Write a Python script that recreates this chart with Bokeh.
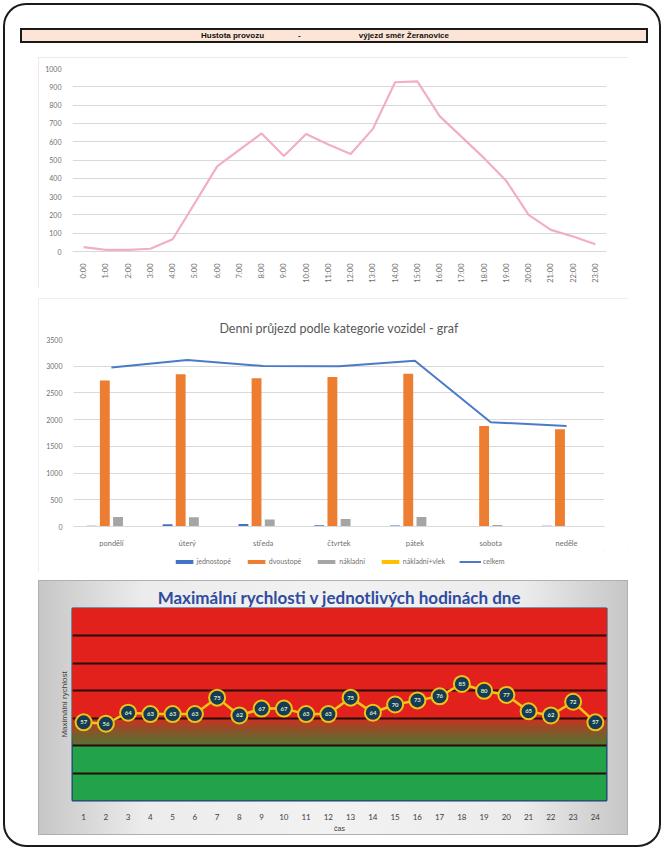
import numpy as np
from bokeh.plotting import figure
from bokeh.models import (ColumnDataSource, FactorRange, Range1d, Legend, LegendItem,
                          Div, FixedTicker, Column)
from bokeh.transform import dodge
from bokeh.embed import file_html
from bokeh.resources import INLINE
from bokeh.core.properties import value

# ---------------- data ----------------
hour_labels = ["0:00", "1:00", "2:00", "3:00", "4:00", "5:00", "6:00", "7:00",
               "8:00", "9:00", "10:00", "11:00", "12:00", "13:00", "14:00", "15:00",
               "16:00", "17:00", "18:00", "19:00", "20:00", "21:00", "22:00", "23:00"]
traffic = [24, 9, 9, 15, 67, 265, 465, 555, 645, 522, 642, 585,
           533, 670, 925, 930, 740, 625, 510, 385, 200, 118, 82, 40]

days = ["pondělí", "úterý", "středa", "čtvrtek", "pátek", "sobota", "neděle"]
jednostope = [15, 40, 45, 25, 20, 10, 15]
dvoustope = [2733, 2851, 2777, 2796, 2857, 1880, 1818]
nakladni = [180, 175, 130, 140, 176, 30, 10]
nakladni_vlek = [5, 5, 5, 5, 5, 3, 3]
celkem = [2975, 3117, 3005, 3000, 3104, 1953, 1880]
series_names = ["jednostopé", "dvoustopé", "nákladní", "nákladní+vlek", "celkem"]

speed_hours = [1, 2, 3, 4, 5, 6, 7, 8, 9, 10, 11, 12,
               13, 14, 15, 16, 17, 18, 19, 20, 21, 22, 23, 24]
speeds = [57, 56, 64, 63, 63, 63, 75, 62, 67, 67, 63, 63,
          75, 64, 70, 73, 76, 85, 80, 77, 65, 62, 72, 57]

FONT = "Lato"
GRID = "#d9d9d9"
LBL = "#6f6f6f"
COLORS = ["#4472C4", "#ED7D31", "#A5A5A5", "#FFC000", "#4A7BC8"]

# ---------------- header bar ----------------
title_div = Div(
    text=('<span>Hustota provozu</span>'
          '<span style="margin:0 58px 0 34px">-</span>'
          '<span>výjezd směr Žeranovice</span>'),
    width=628, height=15, margin=(28, 16, 0, 20),
    styles={"background-color": "#FCE4D6", "border": "2px solid #1a1a1a",
            "box-sizing": "border-box", "font-family": "Liberation Sans",
            "font-size": "8px", "font-weight": "bold", "text-align": "center",
            "line-height": "11px", "padding-right": "18px", "color": "#111"})

# ---------------- chart 1: hourly traffic ----------------
p1 = figure(width=590, height=231, x_range=FactorRange(factors=hour_labels),
            y_range=Range1d(0, 1000), output_backend="svg", toolbar_location=None,
            min_border_left=34, min_border_right=18, min_border_top=11,
            min_border_bottom=37, margin=(14, 0, 0, 38))
p1.title.visible = False
p1.styles = {"outline": "1px solid #eee0da", "outline-offset": "-1px"}
p1.line(x=hour_labels, y=traffic, line_color="#F2AFC0", line_width=2.2)
p1.outline_line_color = None
p1.xgrid.visible = False
p1.ygrid.grid_line_color = GRID
p1.yaxis.ticker = FixedTicker(ticks=list(range(0, 1001, 100)))
p1.yaxis.axis_line_color = None
p1.yaxis.major_tick_line_color = None
p1.yaxis.minor_tick_line_color = None
p1.yaxis.major_label_text_font_size = "7px"
p1.yaxis.major_label_text_color = LBL
p1.yaxis.major_label_text_font = FONT
p1.xaxis.major_label_orientation = np.pi / 2
p1.xaxis.major_label_text_font_size = "7.5px"
p1.xaxis.major_label_text_color = LBL
p1.xaxis.major_label_text_font = FONT
p1.xaxis.axis_line_color = GRID
p1.xaxis.major_tick_line_color = None
p1.xaxis.major_label_standoff = 6

# ---------------- chart 2: daily by category ----------------
src = ColumnDataSource(dict(days=days, j=jednostope, d=dvoustope, n=nakladni,
                            v=nakladni_vlek, c=celkem))
p2 = figure(width=590, height=252, x_range=FactorRange(factors=days),
            y_range=Range1d(0, 3500), output_backend="svg", toolbar_location=None,
            min_border_left=35, min_border_right=24, min_border_top=41,
            min_border_bottom=22, margin=(0, 0, 0, 0),
            title="Denni průjezd podle kategorie vozidel - graf")
p2.title.align = "center"
p2.title.text_font = FONT
p2.title.text_font_size = "12.5px"
p2.title.text_font_style = "normal"
p2.title.text_color = "#595959"
p2.title.standoff = 8
bw = 0.13
p2.vbar(x=dodge("days", -0.26, range=p2.x_range), top="j", width=bw, source=src,
        fill_color=COLORS[0], line_color=None)
p2.vbar(x=dodge("days", -0.087, range=p2.x_range), top="d", width=bw, source=src,
        fill_color=COLORS[1], line_color=None)
p2.vbar(x=dodge("days", 0.087, range=p2.x_range), top="n", width=bw, source=src,
        fill_color=COLORS[2], line_color=None)
p2.vbar(x=dodge("days", 0.26, range=p2.x_range), top="v", width=bw, source=src,
        fill_color=COLORS[3], line_color=None)
p2.line(x="days", y="c", source=src, line_color=COLORS[4], line_width=2)
p2.outline_line_color = None
p2.xgrid.visible = False
p2.ygrid.grid_line_color = GRID
p2.yaxis.ticker = FixedTicker(ticks=list(range(0, 3501, 500)))
p2.yaxis.axis_line_color = None
p2.yaxis.major_tick_line_color = None
p2.yaxis.minor_tick_line_color = None
p2.yaxis.major_label_text_font_size = "7px"
p2.yaxis.major_label_text_color = LBL
p2.yaxis.major_label_text_font = FONT
p2.xaxis.axis_line_color = GRID
p2.xaxis.major_tick_line_color = None
p2.xaxis.major_label_text_font_size = "7.5px"
p2.xaxis.major_label_text_color = LBL
p2.xaxis.major_label_text_font = FONT
p2.xaxis.major_label_standoff = 6

# legend strip for chart 2 (same series styling; its sample marks lie outside the view)
leg = figure(width=590, height=22, x_range=Range1d(0, 1), y_range=Range1d(0, 1),
             output_backend="svg", toolbar_location=None, min_border=0,
             margin=(0, 0, 0, 0))
leg.title.visible = False
leg.axis.visible = False
leg.grid.visible = False
leg.outline_line_color = None
lr = []
for k in range(4):
    lr.append(leg.vbar(x=[5], bottom=[5], top=[6], width=0.1,
                       fill_color=COLORS[k], line_color=None))
lr.append(leg.line(x=[5, 6], y=[5, 5], line_color=COLORS[4], line_width=2))
legend = Legend(items=[LegendItem(label=series_names[k], renderers=[lr[k]]) for k in range(5)],
                orientation="horizontal", location="center", ncols=5,
                label_text_font_size="7px", label_text_color=LBL,
                label_text_font=FONT, glyph_width=22, glyph_height=5,
                label_height=8, label_standoff=2, spacing=14, padding=1, margin=0,
                border_line_color=None, background_fill_alpha=0)
leg.add_layout(legend, "center")

chart2 = Column(children=[p2, leg], spacing=0, margin=(10, 0, 0, 38),
                styles={"outline": "1px solid #e8e8e8", "outline-offset": "-1px"})

# ---------------- chart 3: max speeds ----------------
p3 = figure(width=590, height=255, x_range=Range1d(0.5, 24.5), y_range=Range1d(0, 140),
            output_backend="svg", toolbar_location=None,
            min_border_left=27, min_border_right=22, min_border_top=28,
            min_border_bottom=35, margin=(8, 0, 15, 38),
            title="Maximální rychlosti v jednotlivých hodinách dne")
p3.border_fill_color = None
p3.styles = {"background": "linear-gradient(90deg, #c6c6c6 0%, #ececec 18%, #f2f2f2 50%, #ececec 82%, #c6c6c6 100%)",
             "outline": "1px solid #b0b0b0", "outline-offset": "-1px"}
p3.title.align = "center"
p3.title.text_font = FONT
p3.title.text_font_size = "17px"
p3.title.text_color = "#2F4C9E"
p3.title.text_font_style = "bold"
p3.title.standoff = 1

# background zones: green up to 40, gradient to red by 62
GREEN_TOP, RED_BOTTOM, Y_TOP = 40, 62, 140
p3.quad(left=0.5, right=24.5, bottom=0, top=GREEN_TOP, fill_color="#22A34A",
        line_color=None, level="image")
steps = 22
c0 = np.array([0x5E, 0x6E, 0x30])
c1 = np.array([0xE3, 0x22, 0x1C])
edges = np.linspace(GREEN_TOP, RED_BOTTOM, steps + 1)
for i in range(steps):
    t = (i + 0.5) / steps
    t = t ** 1.5
    col = (c0 + (c1 - c0) * t).astype(int)
    p3.quad(left=0.5, right=24.5, bottom=edges[i], top=Y_TOP,
            fill_color="#%02x%02x%02x" % tuple(col), line_color=None, level="image")
p3.quad(left=0.5, right=24.5, bottom=RED_BOTTOM, top=Y_TOP, fill_color="#E3211C",
        line_color=None, level="image")

p3.ygrid.ticker = FixedTicker(ticks=list(range(20, 140, 20)))
p3.ygrid.grid_line_color = "#2a0a08"
p3.ygrid.grid_line_width = 2
p3.xgrid.visible = False
p3.outline_line_color = "#1F3F7A"
p3.outline_line_width = 2

p3.line(x=speed_hours, y=speeds, line_color="#F5C518", line_width=2.5)
p3.scatter(x=speed_hours, y=speeds, size=16, fill_color="#173A55",
           line_color="#E9C419", line_width=2)
p3.text(x=speed_hours, y=speeds, text=[str(s) for s in speeds],
        text_align="center", text_baseline="middle", text_font=value(FONT),
        text_font_size="6px", text_font_style="bold", text_color="#d6ecc4")

p3.xaxis.ticker = FixedTicker(ticks=speed_hours)
p3.xaxis.axis_line_color = None
p3.xaxis.major_tick_line_color = None
p3.xaxis.minor_tick_line_color = None
p3.xaxis.major_label_text_font_size = "8px"
p3.xaxis.major_label_text_color = "#404040"
p3.xaxis.major_label_text_font = FONT
p3.xaxis.major_label_standoff = 7
p3.xaxis.axis_label = "čas"
p3.xaxis.axis_label_text_font_size = "7px"
p3.xaxis.axis_label_text_font_style = "normal"
p3.xaxis.axis_label_text_color = "#404040"
p3.xaxis.axis_label_standoff = 2
p3.yaxis.ticker = FixedTicker(ticks=[])
p3.yaxis.axis_line_color = None
p3.yaxis.major_tick_line_color = None
p3.yaxis.minor_tick_line_color = None
p3.yaxis.major_tick_out = 0
p3.yaxis.major_tick_in = 0
p3.yaxis.major_label_standoff = 0
p3.yaxis.axis_label = "Maximální rychlost"
p3.yaxis.axis_label_text_font_size = "8px"
p3.yaxis.axis_label_text_font_style = "normal"
p3.yaxis.axis_label_text_color = "#404040"
p3.yaxis.axis_label_standoff = 4

layout = Column(children=[title_div, p1, chart2, p3], spacing=0,
                styles={"outline": "2px solid #1a1a1a", "outline-offset": "-5px",
                        "border-radius": "26px"})

with open("out.html", "w") as f:
    f.write(file_html(layout, INLINE))
